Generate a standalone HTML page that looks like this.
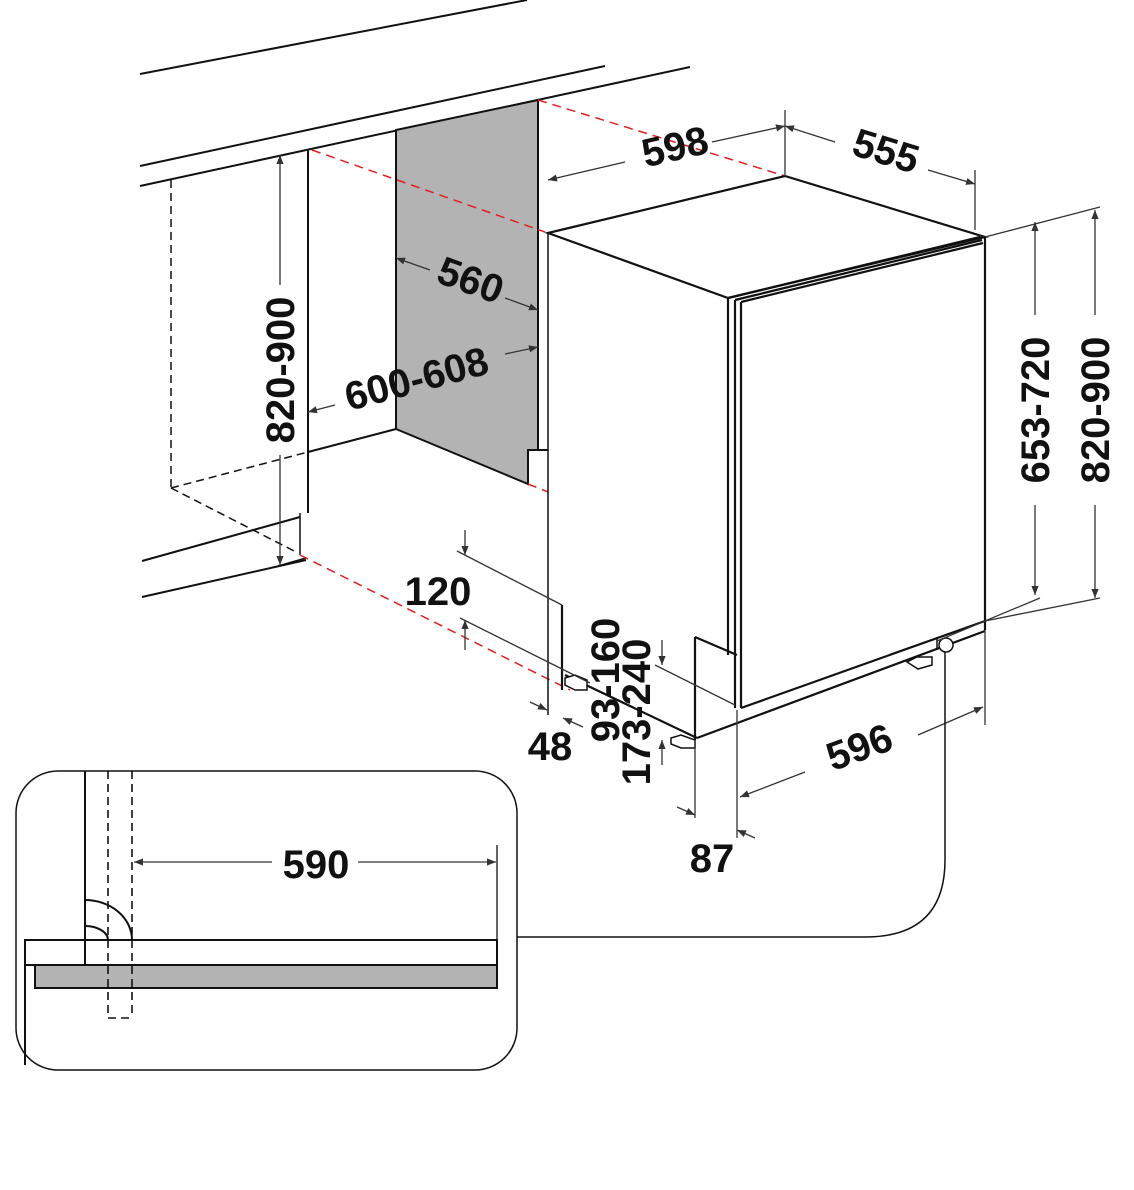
<!DOCTYPE html>
<html><head><meta charset="utf-8"><style>
html,body{margin:0;padding:0;background:#fff}
svg{display:block}
text{font-family:"Liberation Sans",sans-serif;font-weight:bold;font-size:40px;fill:#111}
</style></head><body>
<svg width="1134" height="1190" viewBox="0 0 1134 1190" xmlns="http://www.w3.org/2000/svg">
<defs>
<marker id="a" viewBox="0 0 10 10" refX="10" refY="5" markerWidth="9" markerHeight="9" orient="auto-start-reverse" markerUnits="userSpaceOnUse"><path d="M0,1 L10,5 L0,9 z" fill="#333"/></marker>
</defs>
<g stroke="#111" stroke-width="2" fill="none">
<!-- cabinet lines -->
<line x1="140" y1="74" x2="527" y2="0"/>
<line x1="140" y1="166" x2="605" y2="66"/>
<line x1="140" y1="186" x2="690" y2="67"/>
<line x1="308" y1="150" x2="308" y2="513"/>
<line x1="308" y1="452" x2="396" y2="429"/>
<line x1="142" y1="561" x2="300" y2="517"/>
<line x1="142" y1="597" x2="306" y2="560"/>
<line x1="300" y1="513" x2="300" y2="555" stroke-width="1.5"/>
<line x1="278" y1="566" x2="306" y2="558" stroke-width="1.5"/>
<polygon points="396,130 538,100 538,450 528,450 528,484 396,429" fill="#b3b3b3"/>
<line x1="528" y1="450" x2="548" y2="450"/>
</g>
<g stroke="#111" stroke-width="1.5" fill="none" stroke-dasharray="8,5">
<line x1="171" y1="180" x2="171" y2="488"/>
<line x1="171" y1="488" x2="308" y2="452"/>
<line x1="171" y1="488" x2="298" y2="553"/>
</g>
<g stroke="#e02020" stroke-width="1.5" fill="none" stroke-dasharray="9,6">
<line x1="312" y1="150" x2="545" y2="232"/>
<line x1="538" y1="100" x2="785" y2="176"/>
<line x1="300" y1="555" x2="570" y2="690"/>
<line x1="528" y1="484" x2="548" y2="492"/>
</g>
<!-- appliance -->
<g stroke="#111" stroke-width="2.2" fill="none">
<polygon points="548,233 785,176 985,237 728,298" fill="#fff"/>
<line x1="548" y1="233" x2="548" y2="715" stroke-width="1.5"/>
<line x1="562" y1="605" x2="562" y2="690"/>
<line x1="728" y1="298" x2="728" y2="655"/>
<line x1="735" y1="300" x2="735" y2="708"/>
<line x1="741" y1="302" x2="741" y2="708"/>
<line x1="728" y1="298" x2="980" y2="237"/>
<line x1="735" y1="300" x2="982" y2="240"/>
<line x1="741" y1="302" x2="983" y2="243"/>
<line x1="985" y1="237" x2="985" y2="630"/>
<line x1="741" y1="708" x2="985" y2="621"/>
<line x1="697" y1="738" x2="985" y2="631"/>
<line x1="695" y1="637" x2="695" y2="740"/>
<line x1="695" y1="637" x2="737" y2="655"/>
<line x1="565" y1="675" x2="697" y2="738"/>
<line x1="937" y1="637" x2="937" y2="650" stroke-width="1.5"/>
<path d="M565,678 l10,-3 l12,5 l0,10 l-12,0 l-10,-5 z" stroke-width="1.5" fill="#fff"/>
<path d="M671,738 l10,-3 l14,5 l0,8 l-14,0 l-10,-4 z" stroke-width="1.5" fill="#fff"/>
<path d="M907,662 l10,-5 l15,0 l0,8 l-14,4 z" stroke-width="1.5" fill="#fff"/>
<circle cx="946" cy="645" r="7" stroke-width="1.5" fill="#fff"/>
</g>
<!-- dim lines -->
<g stroke="#333" stroke-width="1.3" fill="none">
<line x1="280" y1="155" x2="280" y2="285" marker-start="url(#a)"/>
<line x1="280" y1="455" x2="280" y2="565" marker-end="url(#a)"/>
<line x1="396" y1="258" x2="430" y2="270" marker-start="url(#a)"/>
<line x1="505" y1="298" x2="538" y2="310" marker-end="url(#a)"/>
<line x1="308" y1="412" x2="335" y2="405" marker-start="url(#a)"/>
<line x1="505" y1="354" x2="538" y2="347" marker-end="url(#a)"/>
<line x1="548" y1="180" x2="625" y2="162" marker-start="url(#a)"/>
<line x1="712" y1="142" x2="785" y2="126" marker-end="url(#a)"/>
<line x1="785" y1="126" x2="835" y2="142" marker-start="url(#a)"/>
<line x1="928" y1="170" x2="975" y2="184" marker-end="url(#a)"/>
<line x1="785" y1="110" x2="785" y2="176"/>
<line x1="975" y1="170" x2="975" y2="230"/>
<line x1="985" y1="237" x2="1100" y2="207"/>
<line x1="1035" y1="222" x2="1035" y2="315" marker-start="url(#a)"/>
<line x1="1035" y1="505" x2="1035" y2="595" marker-end="url(#a)"/>
<line x1="1095" y1="210" x2="1095" y2="315" marker-start="url(#a)"/>
<line x1="1095" y1="505" x2="1095" y2="598" marker-end="url(#a)"/>
<line x1="985" y1="621" x2="1100" y2="598"/>
<line x1="937" y1="641" x2="1040" y2="598"/>
<line x1="985" y1="630" x2="985" y2="725"/>
<line x1="737" y1="710" x2="737" y2="838"/>
<line x1="695" y1="740" x2="695" y2="818"/>
<line x1="740" y1="797" x2="805" y2="772" marker-start="url(#a)"/>
<line x1="918" y1="735" x2="983" y2="707" marker-end="url(#a)"/>
<line x1="677" y1="807" x2="695" y2="815" marker-end="url(#a)"/>
<line x1="755" y1="838" x2="737" y2="830" marker-end="url(#a)"/>
<line x1="530" y1="702" x2="547" y2="710" marker-end="url(#a)"/>
<line x1="583" y1="727" x2="563" y2="718" marker-end="url(#a)"/>
<line x1="465" y1="530" x2="465" y2="555" marker-end="url(#a)"/>
<line x1="465" y1="650" x2="465" y2="620" marker-end="url(#a)"/>
<line x1="457" y1="551" x2="562" y2="605"/>
<line x1="460" y1="618" x2="590" y2="683"/>
<line x1="655" y1="665" x2="735" y2="705"/>
<line x1="662" y1="640" x2="662" y2="665" marker-end="url(#a)"/>
<line x1="662" y1="765" x2="662" y2="740" marker-end="url(#a)"/>
</g>
<!-- labels -->
<text transform="translate(294,370) rotate(-90)" text-anchor="middle">820-900</text>
<text transform="translate(466,293) rotate(20)" text-anchor="middle">560</text>
<text transform="translate(420,392) rotate(-15)" text-anchor="middle">600-608</text>
<text transform="translate(678,160) rotate(-13)" text-anchor="middle">598</text>
<text transform="translate(882,164) rotate(17)" text-anchor="middle">555</text>
<text transform="translate(1049,410) rotate(-90)" text-anchor="middle">653-720</text>
<text transform="translate(1109,410) rotate(-90)" text-anchor="middle">820-900</text>
<text transform="translate(864,760) rotate(-20)" text-anchor="middle">596</text>
<text x="712" y="872" text-anchor="middle">87</text>
<text x="550" y="760" text-anchor="middle">48</text>
<text x="438" y="605" text-anchor="middle">120</text>
<text transform="translate(619,680) rotate(-90)" text-anchor="middle">93-160</text>
<text transform="translate(650,712) rotate(-90)" text-anchor="middle">173-240</text>
<!-- inset -->
<g stroke="#111" fill="none">
<rect x="16" y="771" width="501" height="299" rx="42" stroke-width="1.5"/>
<path d="M517,937 L865,937 Q945,937 945,860 L945,652" stroke-width="1.5"/>
<line x1="85" y1="771" x2="85" y2="965" stroke-width="2"/>
<line x1="25" y1="940" x2="25" y2="1065" stroke-width="2"/>
<rect x="25" y="940" width="472" height="25" stroke-width="2" fill="#fff"/>
<line x1="85" y1="940" x2="85" y2="965" stroke-width="2"/>
<rect x="35" y="965" width="462" height="23" stroke-width="2" fill="#b3b3b3"/>
<path d="M85,900 A47,40 0 0 1 132,940" stroke-width="2"/>
<path d="M85,926 A23,14 0 0 1 108,940" stroke-width="2"/>
<g stroke-dasharray="8,5" stroke-width="1.6">
<line x1="108" y1="771" x2="108" y2="1018"/>
<line x1="132" y1="771" x2="132" y2="1018"/>
<line x1="108" y1="1018" x2="132" y2="1018"/>
</g>
<line x1="497" y1="845" x2="497" y2="940" stroke-width="1.3"/>
<line x1="134" y1="862" x2="272" y2="862" stroke="#333" stroke-width="1.3" marker-start="url(#a)"/>
<line x1="358" y1="862" x2="496" y2="862" stroke="#333" stroke-width="1.3" marker-end="url(#a)"/>
</g>
<text x="316" y="878" text-anchor="middle">590</text>
</svg>
</body></html>
